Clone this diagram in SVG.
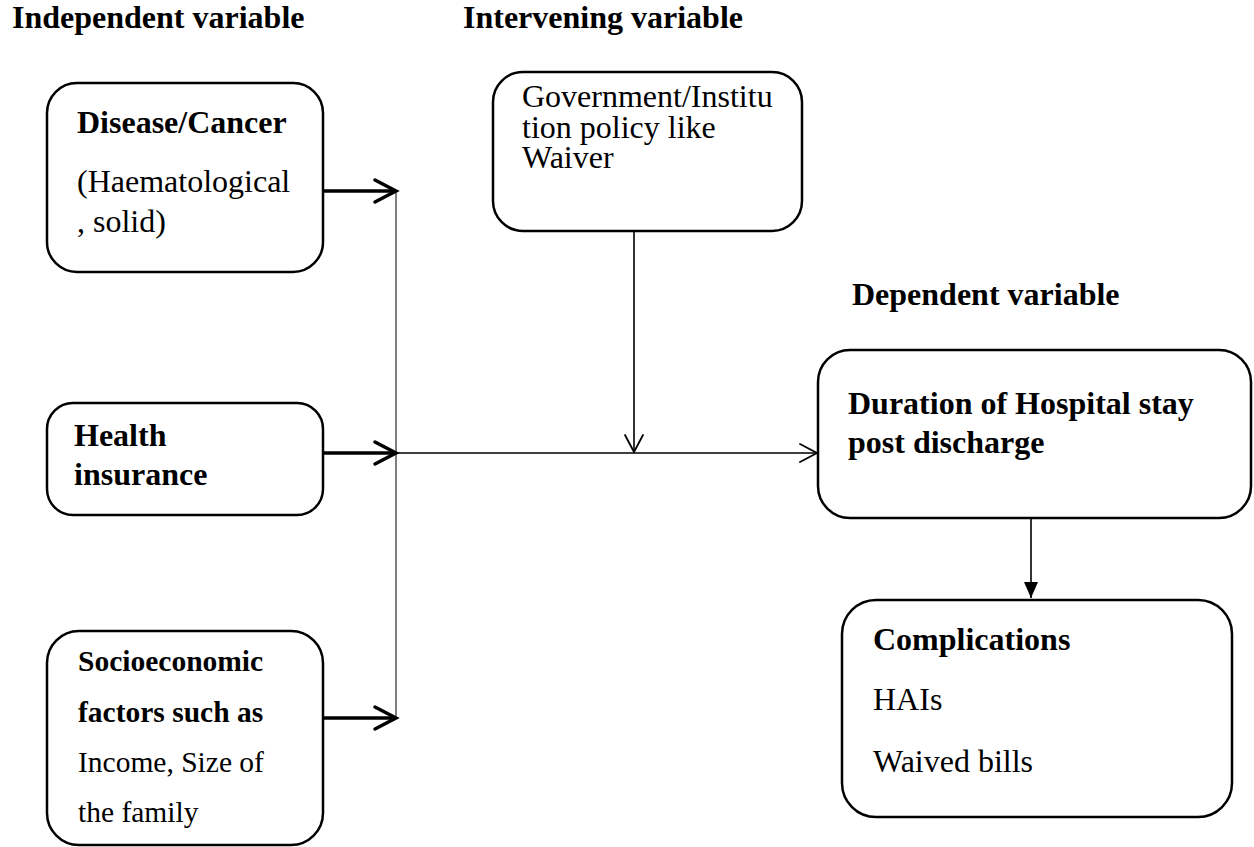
<svg xmlns="http://www.w3.org/2000/svg" width="1254" height="847" viewBox="0 0 1254 847">
<style>
.t{font-size:32px}
.s{font-size:29.5px}
.b{font-weight:bold}
.box{fill:#fff;stroke:#000;stroke-width:2.5}
.thick{stroke:#000;stroke-width:3.5;fill:none}
.thin{stroke:#000;stroke-width:1.6;fill:none}
.gray{stroke:#555;stroke-width:1.5;fill:none}
</style>
<defs>
<marker id="chevThick" markerUnits="userSpaceOnUse" markerWidth="30" markerHeight="30" viewBox="-25 -15 30 30" refX="0" refY="0" orient="auto">
<path d="M-21,-11 L0,0 L-21,11" fill="none" stroke="#000" stroke-width="3.5" stroke-linecap="round" stroke-linejoin="miter"/>
</marker>
<marker id="chevThin" markerUnits="userSpaceOnUse" markerWidth="30" markerHeight="30" viewBox="-25 -15 30 30" refX="0" refY="0" orient="auto">
<path d="M-17,-9 L0,0 L-17,9" fill="none" stroke="#000" stroke-width="1.8" stroke-linecap="round"/>
</marker>
<marker id="tri" markerUnits="userSpaceOnUse" markerWidth="20" markerHeight="20" viewBox="-18 -10 20 20" refX="0" refY="0" orient="auto">
<path d="M-16,-7 L0,0 L-16,7 Z" fill="#000"/>
</marker>
</defs>

<g font-family="Liberation Serif, Times New Roman, DejaVu Serif, serif" fill="#000">
<g id="headings">
<text class="t b" x="12" y="28">Independent variable</text>
<text class="t b" x="463" y="28">Intervening variable</text>
<text class="t b" x="852" y="305">Dependent variable</text>
</g>

<g id="node-disease">
<rect class="box" x="47" y="83" width="276" height="189" rx="30"/>
<text class="t b" x="77" y="133">Disease/Cancer</text>
<text class="t" x="77" y="192">(Haematological</text>
<text class="t" x="77" y="232">, solid)</text>
</g>

<g id="node-insurance">
<rect class="box" x="47" y="403" width="276" height="112" rx="26"/>
<text class="t b" x="74" y="446">Health</text>
<text class="t b" x="74" y="485">insurance</text>
</g>

<g id="node-socio">
<rect class="box" x="47" y="631" width="276" height="214" rx="32"/>
<text class="s b" x="78" y="671">Socioeconomic</text>
<text class="s b" x="78" y="722">factors such as</text>
<text class="s" x="78" y="772">Income, Size of</text>
<text class="s" x="78" y="822">the family</text>
</g>

<g id="node-policy">
<rect class="box" x="493" y="72" width="309" height="159" rx="30"/>
<text class="t" x="522" y="107">Government/Institu</text>
<text class="t" x="522" y="138">tion policy like</text>
<text class="t" x="522" y="168">Waiver</text>
</g>

<g id="node-duration">
<rect class="box" x="818" y="350" width="433" height="168" rx="32"/>
<text class="t b" x="848" y="414">Duration of Hospital stay</text>
<text class="t b" x="848" y="453">post discharge</text>
</g>

<g id="node-complications">
<rect class="box" x="842" y="600" width="390" height="217" rx="34"/>
<text class="t b" x="873" y="650">Complications</text>
<text class="t" x="873" y="710">HAIs</text>
<text class="t" x="873" y="772">Waived bills</text>
</g>
</g>

<g id="connectors">
<line class="gray" x1="396" y1="191" x2="396" y2="718"/>
<line class="thick" x1="323" y1="191" x2="396" y2="191" marker-end="url(#chevThick)"/>
<line class="thick" x1="323" y1="453" x2="396" y2="453" marker-end="url(#chevThick)"/>
<line class="thick" x1="323" y1="718" x2="396" y2="718" marker-end="url(#chevThick)"/>
<line class="thin" x1="396" y1="453" x2="817" y2="453" marker-end="url(#chevThin)"/>
<line class="thin" x1="634" y1="231" x2="634" y2="452" marker-end="url(#chevThin)"/>
<line class="thin" x1="1031" y1="518" x2="1031" y2="598" marker-end="url(#tri)"/>
</g>
</svg>
